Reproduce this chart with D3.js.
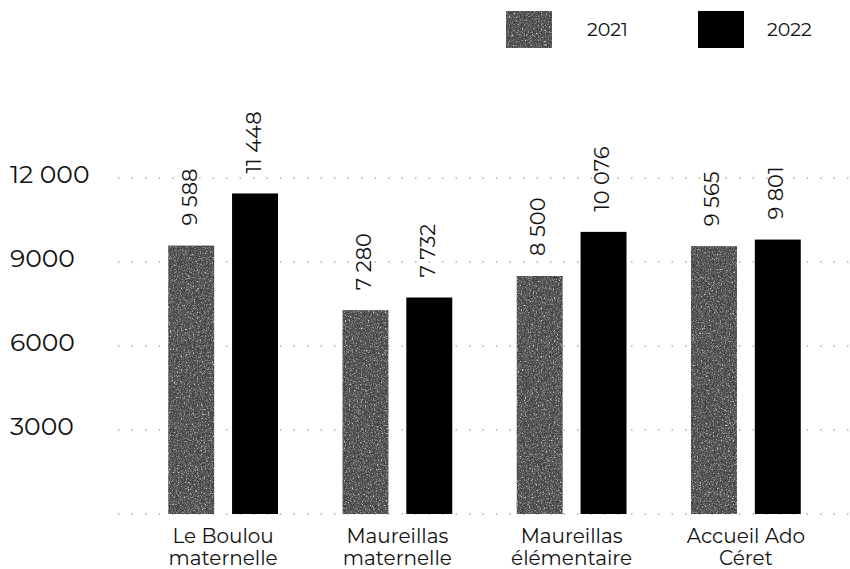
<!DOCTYPE html>
<html><head><meta charset="utf-8">
<script src="https://cdn.jsdelivr.net/npm/d3@7"></script>
<style>html,body{margin:0;padding:0;background:#fff}svg{display:block}</style>
</head><body>
<svg id="chart" width="850" height="569"></svg>
<script>
const categories = [["Le Boulou","maternelle"],["Maureillas","maternelle"],["Maureillas","élémentaire"],["Accueil Ado","Céret"]];
const seriesNames = ["2021","2022"];
const values2021 = [9588, 7280, 8500, 9565];
const values2022 = [11448, 7732, 10076, 9801];
const valueLabels2021 = ["9 588","7 280","8 500","9 565"];
const valueLabels2022 = ["11 448","7 732","10 076","9 801"];
const yTicks = [3000, 6000, 9000, 12000];
const yTickLabels = ["3000","6000","9000","12 000"];

const svg = d3.select("#chart");
const font = "Montserrat, 'Open Sans', sans-serif";
const defs = svg.append("defs");
const f = defs.append("filter").attr("id","speckle").attr("x",0).attr("y",0).attr("width",1).attr("height",1);
f.append("feTurbulence").attr("type","fractalNoise").attr("baseFrequency",0.75).attr("numOctaves",2).attr("seed",4).attr("result","noise");
f.append("feColorMatrix").attr("in","noise").attr("type","matrix")
  .attr("values","1 0 0 0 0  1 0 0 0 0  1 0 0 0 0  0 0 0 0 1").attr("result","g");
const ct = f.append("feComponentTransfer").attr("in","g").attr("result","t");
["feFuncR","feFuncG","feFuncB"].forEach(n=>ct.append(n).attr("type","discrete").attr("tableValues","0.05 0.05 0.05 0.07 0.12 0.28 0.65 0.95"));
f.append("feComposite").attr("in","t").attr("in2","SourceGraphic").attr("operator","in");

const x0 = d3.scaleBand().domain(d3.range(categories.length)).range([136, 833]).paddingInner(0.37).paddingOuter(0.185);
const x1 = d3.scaleBand().domain(seriesNames).range([0, x0.bandwidth()]).paddingInner(0.28);
const y = d3.scaleLinear().domain([0, 12000]).range([514, 178]);

// grid
svg.append("g").selectAll("line").data([0].concat(yTicks)).join("line")
  .attr("x1",118).attr("x2",850).attr("y1",d=>y(d)).attr("y2",d=>y(d))
  .attr("stroke","#8a8a8a").attr("stroke-width",1).attr("stroke-dasharray","1.5,12");

// y labels
svg.append("g").selectAll("text").data(yTicks).join("text")
  .attr("x",10).attr("y",(d)=>y(d)-2).attr("dominant-baseline","middle")
  .attr("font-family",font).attr("font-size",25).attr("fill","#111")
  .text((d,i)=>yTickLabels[i]);

const series = [
  {name:"2021", vals:values2021, labels:valueLabels2021, fill:"#000", filter:"url(#speckle)"},
  {name:"2022", vals:values2022, labels:valueLabels2022, fill:"#000", filter:null}
];
series.forEach(s=>{
  const g = svg.append("g");
  g.selectAll("rect").data(s.vals).join("rect")
    .attr("x",(d,i)=>x0(i)+x1(s.name)).attr("width",x1.bandwidth())
    .attr("y",d=>y(d)).attr("height",d=>y(0)-y(d))
    .attr("fill",s.fill).attr("filter",s.filter);
  g.selectAll("text").data(s.vals).join("text")
    .attr("transform",(d,i)=>`translate(${x0(i)+x1(s.name)+x1.bandwidth()/2},${y(d)-20}) rotate(-90)`)
    .attr("dominant-baseline","middle").attr("text-anchor","start")
    .attr("font-family",font).attr("font-size",21).attr("fill","#111")
    .text((d,i)=>s.labels[i]);
});

// category labels
const cg = svg.append("g");
categories.forEach((c,i)=>{
  const cx = x0(i)+x0.bandwidth()/2;
  c.forEach((line,j)=>{
    cg.append("text").attr("x",cx).attr("y",538+j*22).attr("text-anchor","middle")
      .attr("dominant-baseline","middle").attr("font-family",font).attr("font-size",20).attr("fill","#111").text(line);
  });
});

// legend
const lg = svg.append("g");
const legX = [506, 698];
const legTextX = [587, 767];
series.forEach((s,i)=>{
  lg.append("rect").attr("x",legX[i]).attr("y",11).attr("width",46).attr("height",37)
    .attr("fill",s.fill).attr("filter",s.filter);
  lg.append("text").attr("x",legTextX[i]).attr("y",31).attr("dominant-baseline","middle")
    .attr("font-family",font).attr("font-size",19).attr("fill","#111").text(s.name);
});
</script>
</body></html>
